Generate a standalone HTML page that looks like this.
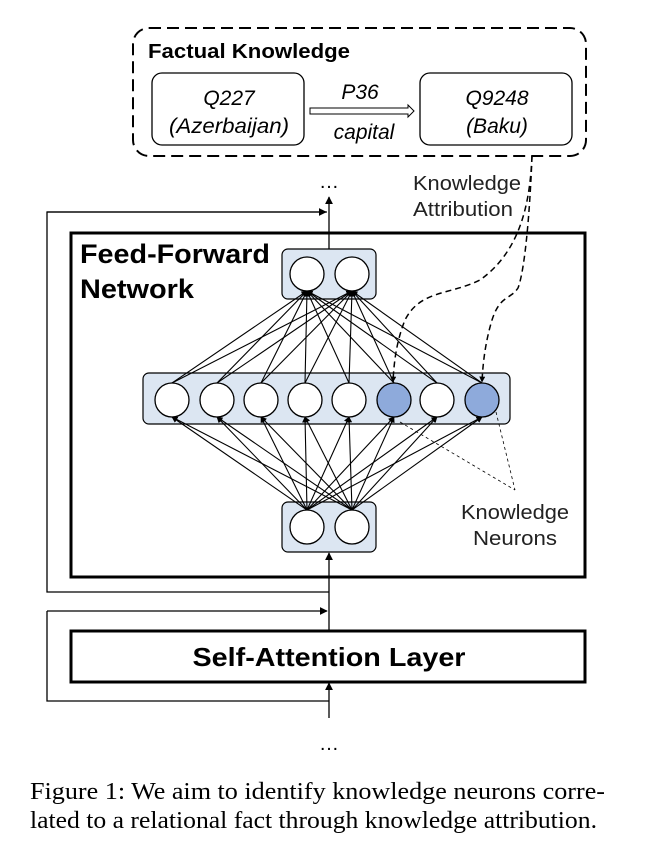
<!DOCTYPE html>
<html><head><meta charset="utf-8"><style>
body{margin:0;background:#fff;}
svg text{font-family:"Liberation Sans",sans-serif;}
</style></head><body>
<svg width="652" height="863" viewBox="0 0 652 863" xmlns="http://www.w3.org/2000/svg">
<defs>
<marker id="ah" viewBox="0 0 10 10" refX="9" refY="5" markerWidth="6" markerHeight="6" orient="auto-start-reverse" markerUnits="userSpaceOnUse"><path d="M0,0 L10,5 L0,10 z" fill="#000"/></marker>
<marker id="ah2" viewBox="0 0 10 10" refX="9" refY="5" markerWidth="8" markerHeight="8" orient="auto" markerUnits="userSpaceOnUse"><path d="M0,0 L10,5 L0,10 z" fill="#000"/></marker>
</defs>
<rect x="133" y="28" width="453" height="128" rx="16" fill="none" stroke="#000" stroke-width="2" stroke-dasharray="12,6"/>
<text x="148" y="58" font-size="20" font-weight="bold" textLength="202" lengthAdjust="spacingAndGlyphs">Factual Knowledge</text>
<rect x="152" y="73" width="152" height="72" rx="10" fill="none" stroke="#000" stroke-width="1.3"/>
<rect x="420" y="73" width="152" height="72" rx="10" fill="none" stroke="#000" stroke-width="1.3"/>
<text x="229" y="105" font-size="21" font-style="italic" text-anchor="middle">Q227</text>
<text x="229" y="133" font-size="21" font-style="italic" text-anchor="middle" textLength="120" lengthAdjust="spacingAndGlyphs">(Azerbaijan)</text>
<text x="497" y="105" font-size="21" font-style="italic" text-anchor="middle">Q9248</text>
<text x="497" y="133" font-size="21" font-style="italic" text-anchor="middle">(Baku)</text>
<text x="360" y="99" font-size="21" font-style="italic" text-anchor="middle">P36</text>
<text x="364" y="139" font-size="21" font-style="italic" text-anchor="middle">capital</text>
<path d="M310,108 H408 V105 L414,111 L408,117 V114 H310 Z" fill="#fff" stroke="#000" stroke-width="1"/>
<text x="329" y="188" font-size="20" text-anchor="middle">…</text>
<text x="329" y="750" font-size="20" text-anchor="middle">…</text>
<text x="413" y="190" font-size="20" fill="#222" textLength="108" lengthAdjust="spacingAndGlyphs">Knowledge</text>
<text x="413" y="216" font-size="20" fill="#222" textLength="100" lengthAdjust="spacingAndGlyphs">Attribution</text>
<polyline points="327,212 47,212 47,592 329,592" fill="none" stroke="#000" stroke-width="1.3"/>
<line x1="47" y1="212" x2="326" y2="212" stroke="#000" stroke-width="1.3" marker-end="url(#ah2)"/>
<polyline points="47,611 47,701 329,701" fill="none" stroke="#000" stroke-width="1.3"/>
<line x1="47" y1="611" x2="327" y2="611" stroke="#000" stroke-width="1.3" marker-end="url(#ah2)"/>
<line x1="329" y1="249" x2="329" y2="197" stroke="#000" stroke-width="1.3" marker-end="url(#ah2)"/>
<line x1="329" y1="630" x2="329" y2="553" stroke="#000" stroke-width="1.3" marker-end="url(#ah2)"/>
<line x1="329" y1="718" x2="329" y2="683" stroke="#000" stroke-width="1.3" marker-end="url(#ah2)"/>
<rect x="71" y="233" width="514" height="344" fill="none" stroke="#000" stroke-width="3"/>
<text x="80" y="263" font-size="27" font-weight="bold" textLength="190" lengthAdjust="spacingAndGlyphs">Feed-Forward</text>
<text x="80" y="298" font-size="27" font-weight="bold" textLength="114" lengthAdjust="spacingAndGlyphs">Network</text>
<rect x="71" y="631" width="514" height="51" fill="#fff" stroke="#000" stroke-width="3"/>
<text x="329" y="666" font-size="26" font-weight="bold" text-anchor="middle" textLength="273" lengthAdjust="spacingAndGlyphs">Self-Attention Layer</text>
<rect x="282" y="249" width="94" height="50" rx="6" fill="#dce6f2" stroke="#000" stroke-width="1.2"/>
<rect x="143" y="373" width="367" height="51" rx="6" fill="#dce6f2" stroke="#000" stroke-width="1.2"/>
<rect x="282" y="502" width="94" height="50" rx="6" fill="#dce6f2" stroke="#000" stroke-width="1.2"/>
<g stroke="#000" stroke-width="1.1" marker-end="url(#ah)">
<line x1="172" y1="383" x2="307" y2="291"/><line x1="172" y1="383" x2="352" y2="291"/>
<line x1="217" y1="383" x2="307" y2="291"/><line x1="217" y1="383" x2="352" y2="291"/>
<line x1="261" y1="383" x2="307" y2="291"/><line x1="261" y1="383" x2="352" y2="291"/>
<line x1="305" y1="383" x2="307" y2="291"/><line x1="305" y1="383" x2="352" y2="291"/>
<line x1="349" y1="383" x2="307" y2="291"/><line x1="349" y1="383" x2="352" y2="291"/>
<line x1="394" y1="383" x2="307" y2="291"/><line x1="394" y1="383" x2="352" y2="291"/>
<line x1="437" y1="383" x2="307" y2="291"/><line x1="437" y1="383" x2="352" y2="291"/>
<line x1="482" y1="383" x2="307" y2="291"/><line x1="482" y1="383" x2="352" y2="291"/>
<line x1="307" y1="510" x2="172" y2="417"/><line x1="352" y1="510" x2="172" y2="417"/>
<line x1="307" y1="510" x2="217" y2="417"/><line x1="352" y1="510" x2="217" y2="417"/>
<line x1="307" y1="510" x2="261" y2="417"/><line x1="352" y1="510" x2="261" y2="417"/>
<line x1="307" y1="510" x2="305" y2="417"/><line x1="352" y1="510" x2="305" y2="417"/>
<line x1="307" y1="510" x2="349" y2="417"/><line x1="352" y1="510" x2="349" y2="417"/>
<line x1="307" y1="510" x2="394" y2="417"/><line x1="352" y1="510" x2="394" y2="417"/>
<line x1="307" y1="510" x2="437" y2="417"/><line x1="352" y1="510" x2="437" y2="417"/>
<line x1="307" y1="510" x2="482" y2="417"/><line x1="352" y1="510" x2="482" y2="417"/>
</g>
<g stroke="#000" stroke-width="1.3" fill="#fff">
<circle cx="307" cy="274" r="17"/><circle cx="352" cy="274" r="17"/>
<circle cx="307" cy="527" r="17"/><circle cx="352" cy="527" r="17"/>
<circle cx="172" cy="400" r="17"/><circle cx="217" cy="400" r="17"/><circle cx="261" cy="400" r="17"/>
<circle cx="305" cy="400" r="17"/><circle cx="349" cy="400" r="17"/>
<circle cx="394" cy="400" r="17" fill="#8eaadb"/>
<circle cx="437" cy="400" r="17"/>
<circle cx="482" cy="400" r="17" fill="#8eaadb"/>
</g>
<g fill="none" stroke="#000" stroke-width="1.5" stroke-dasharray="6,4" marker-end="url(#ah)">
<path d="M532,156 C530,200 522,250 480,280 C450,295 420,290 405,320 C397,340 394,360 393,382"/>
<path d="M532,156 C530,210 525,270 518,288 C510,300 500,295 492,320 C486,340 483,360 482,382"/>
</g>
<g fill="none" stroke="#000" stroke-width="0.8" stroke-dasharray="3,3">
<line x1="400" y1="422" x2="515" y2="490"/>
<line x1="496" y1="412" x2="515" y2="490"/>
</g>
<text x="515" y="519" font-size="20" fill="#222" text-anchor="middle" textLength="108" lengthAdjust="spacingAndGlyphs">Knowledge</text>
<text x="515" y="545" font-size="20" fill="#222" text-anchor="middle" textLength="84" lengthAdjust="spacingAndGlyphs">Neurons</text>
<text x="30" y="799" font-size="24" style="font-family:'Liberation Serif',serif" textLength="575" lengthAdjust="spacingAndGlyphs">Figure 1: We aim to identify knowledge neurons corre-</text>
<text x="30" y="828" font-size="24" style="font-family:'Liberation Serif',serif" textLength="567" lengthAdjust="spacingAndGlyphs">lated to a relational fact through knowledge attribution.</text>
</svg>
</body></html>
